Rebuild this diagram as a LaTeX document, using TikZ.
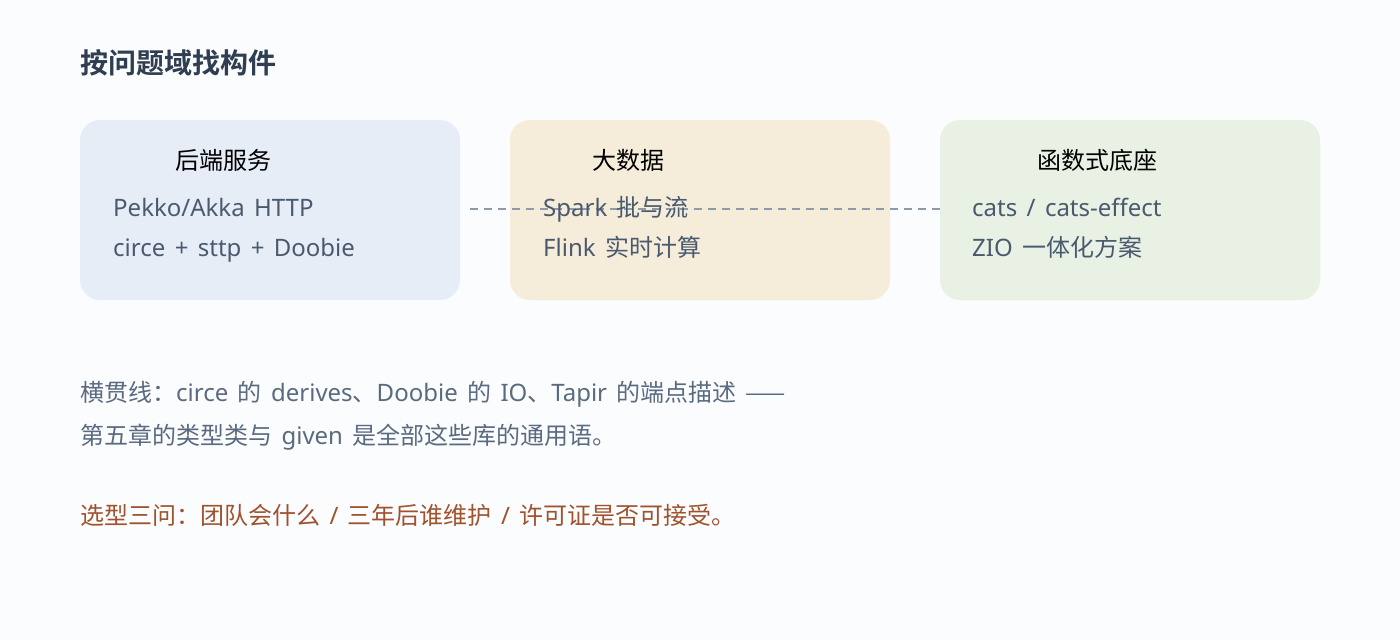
\documentclass[tikz,border=0pt]{standalone}
\usepackage{fontspec}
\setmainfont{Noto Sans CJK SC}
\newfontfamily\titlefont{Noto Sans CJK SC Bold}
\newfontfamily\latf[WordSpace=1.5]{Noto Sans}
\newcommand\la[1]{{\latf #1}}
\definecolor{bgc}{HTML}{FBFCFE}
\definecolor{titlec}{HTML}{2F3E50}
\definecolor{boxa}{HTML}{E6EDF7}
\definecolor{boxb}{HTML}{F5ECDA}
\definecolor{boxc}{HTML}{E8F1E4}
\definecolor{bodyc}{HTML}{4A5A6E}
\definecolor{notec}{HTML}{5A6B80}
\definecolor{warnc}{HTML}{A0522D}
\definecolor{dashc}{HTML}{8C9AA9}
\tikzset{
  card/.style={draw=none, rounded corners=20pt},
  hdr/.style={anchor=base west, inner sep=0pt, font=\fontsize{24}{28}\selectfont, text=black},
  bodytxt/.style={anchor=base west, inner sep=0pt, font=\fontsize{24}{28}\selectfont, text=bodyc},
  note/.style={anchor=base west, inner sep=0pt, font=\fontsize{24}{28}\selectfont, text=notec},
  warn/.style={anchor=base west, inner sep=0pt, font=\fontsize{24}{28}\selectfont, text=warnc},
  link/.style={draw=dashc, line width=2pt, dash pattern=on 8pt off 6pt}
}
\begin{document}
\begin{tikzpicture}[x=1pt,y=-1pt]
\fill[bgc] (0,0) rectangle (1400,640);
\useasboundingbox (0,0) rectangle (1400,640);
\node[anchor=base west, inner sep=0pt, font=\titlefont\fontsize{28}{32}\selectfont, text=titlec] (title) at (80,73) {按问题域找构件};
% cards
\fill[boxa, card] (80,120) rectangle (460,300);
\fill[boxb, card] (510,120) rectangle (890,300);
\fill[boxc, card] (940,120) rectangle (1320,300);
\coordinate (cardC) at (940,209);
\coordinate (linkA) at (470,209);
% connector
\draw[link] (linkA) -- (cardC);
% card texts
\node[hdr] (hA) at (175,169) {后端服务};
\node[bodytxt] (a1) at (113,216) {\la{Pekko/Akka HTTP}};
\node[bodytxt] (a2) at (113,256) {\la{circe + sttp + Doobie}};
\node[hdr] (hB) at (592,169) {大数据};
\node[bodytxt] (b1) at (543,216) {\la{Spark }批与流};
\node[bodytxt] (b2) at (543,256) {\la{Flink }实时计算};
\node[hdr] (hC) at (1037,169) {函数式底座};
\node[bodytxt] (c1) at (972,216) {\la{cats / cats-effect}};
\node[bodytxt] (c2) at (972,256) {\la{ZIO }一体化方案};
% notes
\node[note] (n1) at (80,401) {横贯线：\la{circe }的\la{ derives}、\la{Doobie }的\la{ IO}、\la{Tapir }的端点描述\la{ }——};
\node[note] (n2) at (80,444) {第五章的类型类与\la{ given }是全部这些库的通用语。};
\node[warn] (n3) at (80,524) {选型三问：团队会什么\la{ / }三年后谁维护\la{ / }许可证是否可接受。};
\end{tikzpicture}
\end{document}
